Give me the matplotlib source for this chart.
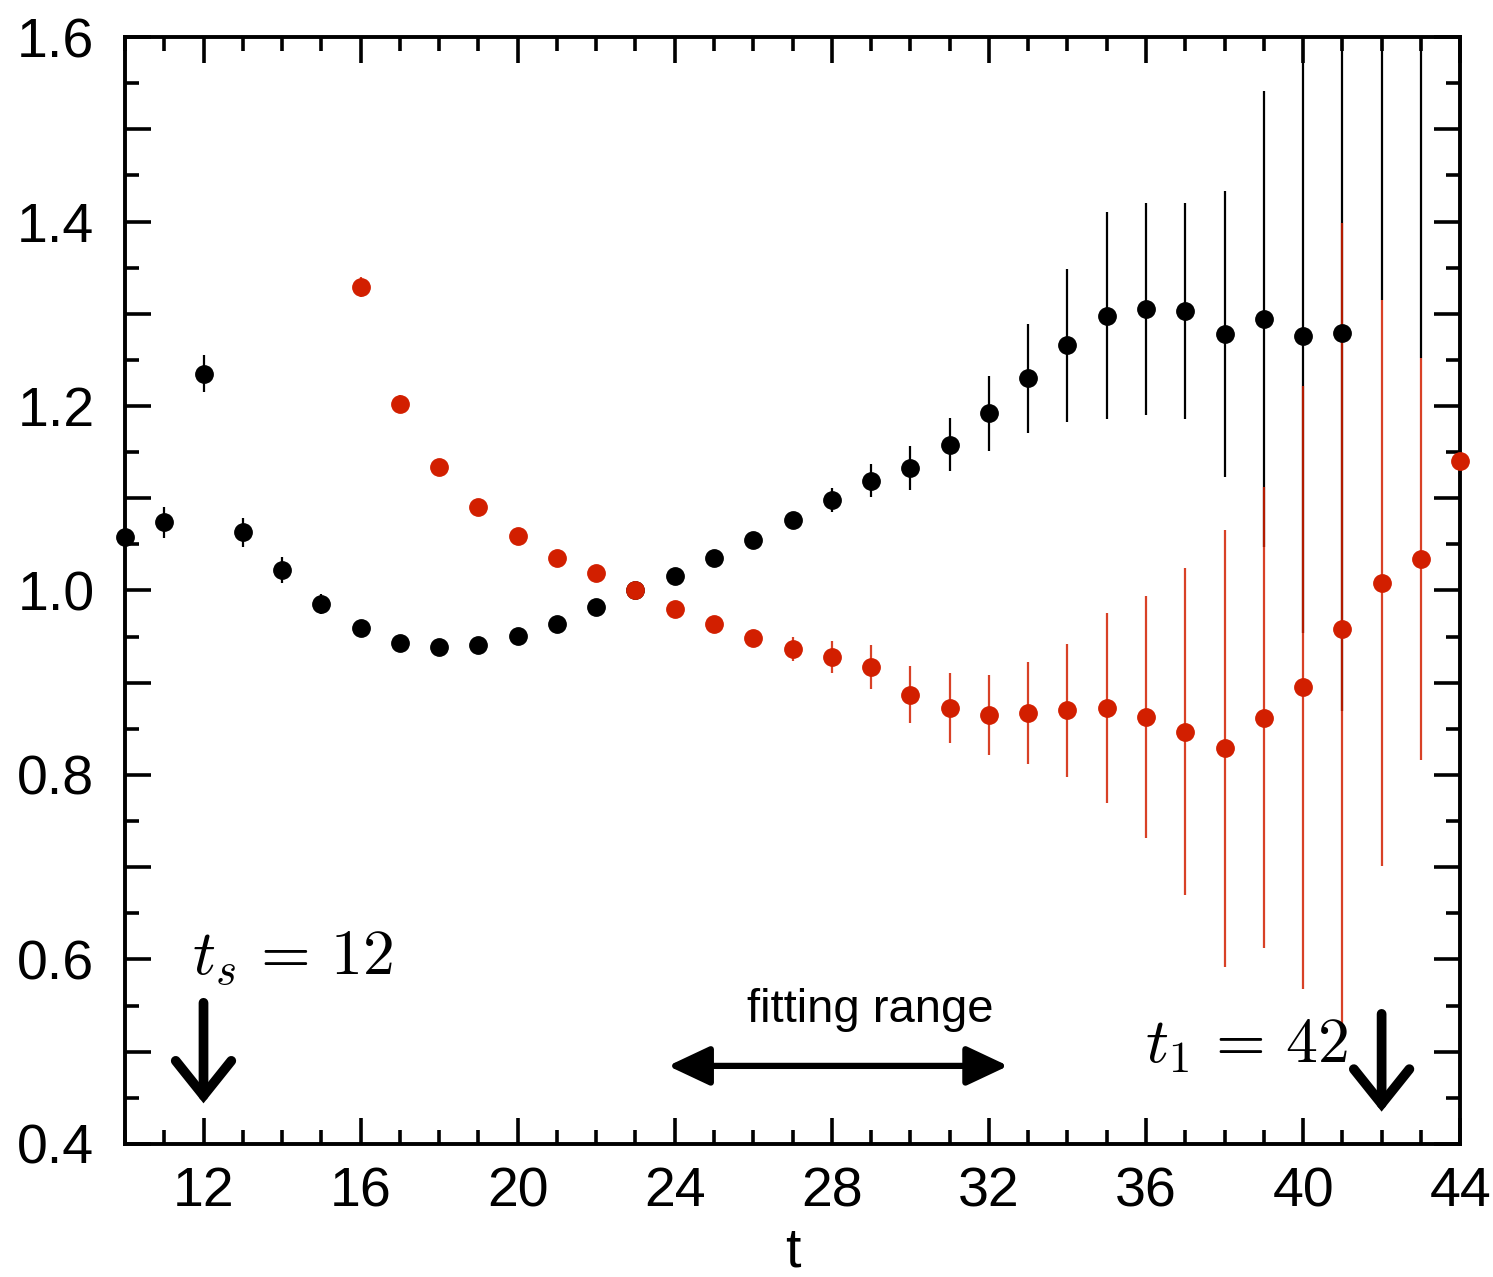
import numpy as np
import matplotlib
matplotlib.use("Agg")
import matplotlib.pyplot as plt
from matplotlib.ticker import MultipleLocator, FuncFormatter

plt.rcParams['font.family'] = ['Liberation Sans', 'DejaVu Sans']
plt.rcParams['mathtext.fontset'] = 'cm'

# ---- data ----
t_black = [10, 11, 12, 13, 14, 15, 16, 17, 18, 19, 20, 21, 22, 23, 24, 25, 26,
           27, 28, 29, 30, 31, 32, 33, 34, 35, 36, 37, 38, 39, 40, 41, 42, 43]
y_black = [1.058, 1.074, 1.235, 1.063, 1.022, 0.985, 0.959, 0.943, 0.939, 0.941,
           0.951, 0.964, 0.982, 1.000, 1.016, 1.035, 1.055, 1.076, 1.098, 1.119,
           1.133, 1.158, 1.192, 1.230, 1.266, 1.298, 1.305, 1.303, 1.278, 1.294,
           1.276, 1.279, 1.750, 1.720]
e_black = [0.004, 0.017, 0.020, 0.016, 0.014, 0.011, 0.005, 0.004, 0.004, 0.004,
           0.004, 0.004, 0.004, 0.004, 0.005, 0.005, 0.005, 0.009, 0.013, 0.018,
           0.024, 0.029, 0.041, 0.059, 0.083, 0.112, 0.115, 0.117, 0.155, 0.247,
           0.322, 0.410, 0.435, 0.468]

t_red = [16, 17, 18, 19, 20, 21, 22, 23, 24, 25, 26, 27, 28, 29, 30, 31, 32, 33,
         34, 35, 36, 37, 38, 39, 40, 41, 42, 43, 44]
y_red = [1.329, 1.202, 1.134, 1.091, 1.059, 1.035, 1.019, 1.000, 0.980, 0.964,
         0.949, 0.937, 0.928, 0.917, 0.887, 0.873, 0.865, 0.867, 0.870, 0.873,
         0.863, 0.847, 0.829, 0.862, 0.895, 0.958, 1.008, 1.034, 1.140]
e_red = [0.011, 0.010, 0.007, 0.004, 0.004, 0.004, 0.004, 0.004, 0.004, 0.004,
         0.004, 0.013, 0.017, 0.024, 0.031, 0.038, 0.043, 0.055, 0.072, 0.103,
         0.131, 0.177, 0.237, 0.250, 0.327, 0.440, 0.307, 0.218, 0.0]

x_ticks = [12, 16, 20, 24, 28, 32, 36, 40, 44]
y_labels = [0.4, 0.6, 0.8, 1.0, 1.2, 1.4, 1.6]

RED = '#d21f00'
XMIN, XMAX, YMIN, YMAX = 10, 44, 0.4, 1.6

fig = plt.figure(figsize=(14.93, 12.77), dpi=100)
ax = fig.add_axes([0.0837, 0.1042, 0.8943, 0.8668])
ax.set_xlim(XMIN, XMAX)
ax.set_ylim(YMIN, YMAX)

# error bars
ax.errorbar(t_black, y_black, yerr=e_black, fmt='none', ecolor='black',
            elinewidth=1.6, capsize=0, zorder=2)
ax.errorbar(t_red, y_red, yerr=e_red, fmt='none', ecolor=RED,
            elinewidth=1.6, capsize=0, zorder=3, alpha=0.85)

# markers (those inside the y range, not clipped at the frame)
tb, yb = np.array(t_black), np.array(y_black)
mb = (yb >= YMIN) & (yb <= YMAX)
ax.plot(tb[mb], yb[mb], 'o', color='black', ms=12.5, zorder=5, clip_on=False)
tr, yr = np.array(t_red), np.array(y_red)
mr = (yr >= YMIN) & (yr <= YMAX)
ax.plot(tr[mr], yr[mr], 'o', color=RED, ms=12.5, zorder=6, clip_on=False)

# ticks
ax.set_xticks(x_ticks)
ax.xaxis.set_minor_locator(MultipleLocator(1))
ax.yaxis.set_major_locator(MultipleLocator(0.1))
ax.yaxis.set_minor_locator(MultipleLocator(0.05))

def yfmt(v, pos):
    for lv in y_labels:
        if abs(v - lv) < 1e-6:
            return f"{lv:.1f}"
    return ""
ax.yaxis.set_major_formatter(FuncFormatter(yfmt))

ax.tick_params(which='both', direction='in', top=True, right=True, width=2.6)
ax.tick_params(which='major', length=19)
ax.tick_params(which='minor', length=10)
ax.tick_params(axis='x', which='major', labelsize=40, pad=16)
ax.tick_params(axis='y', which='major', labelsize=40, pad=22)
for s in ax.spines.values():
    s.set_linewidth(2.8)

ax.set_xlabel('t', fontsize=40, labelpad=6)

# annotations
ax.text(11.7, 0.583, r'$t_s\,=\,12$', fontsize=46, ha='left', va='baseline')
ax.text(41.15, 0.489, r'$t_1\,=\,42$', fontsize=46, ha='right', va='baseline')
ax.text(28.98, 0.545, 'fitting range', fontsize=34, ha='center', va='center')

for xa, y0, y1 in [(12, 0.553, 0.444), (42, 0.541, 0.435)]:
    ax.annotate('', xy=(xa, y1), xytext=(xa, y0),
                arrowprops=dict(arrowstyle='->,head_length=0.5,head_width=0.4',
                                lw=7, color='black', shrinkA=0, shrinkB=0,
                                mutation_scale=50, joinstyle='miter'),
                annotation_clip=False)
ax.annotate('', xy=(23.83, 0.4846), xytext=(32.49, 0.4846),
            arrowprops=dict(arrowstyle='<|-|>,head_length=0.85,head_width=0.4',
                            lw=4.5, color='black', shrinkA=0, shrinkB=0,
                            mutation_scale=30))

fig.savefig('out.png', dpi=100)
